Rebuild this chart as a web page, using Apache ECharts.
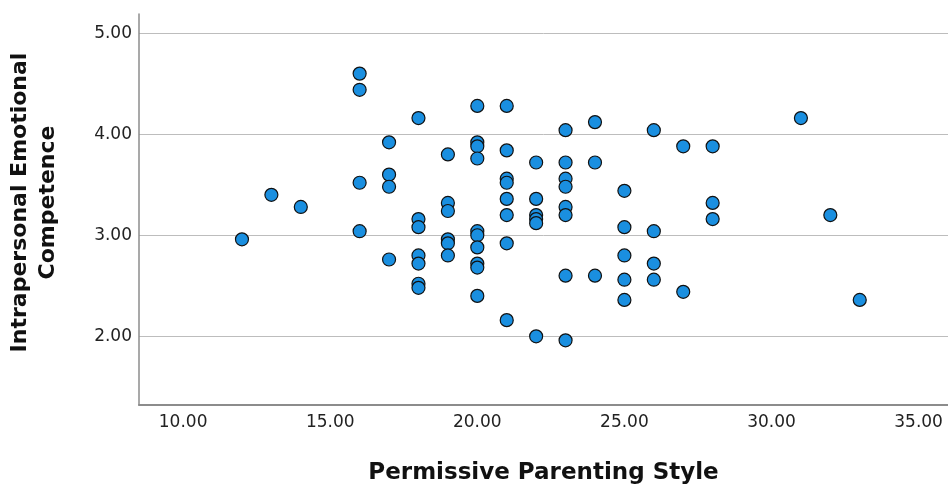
<!DOCTYPE html>
<html>
<head>
<meta charset="utf-8">
<script src="https://cdn.jsdelivr.net/npm/echarts@6/dist/echarts.min.js"></script>
<style>html,body{margin:0;padding:0;background:#fff}#chart{width:948px;height:486px}</style>
</head>
<body>
<div id="chart"></div>
<script>
// Permissive Parenting Style (x) and Intrapersonal Emotional Competence (y)
const permissive = [
  12, 13, 14,
  16, 16, 16, 16,
  17, 17, 17, 17,
  18, 18, 18, 18, 18, 18, 18,
  19, 19, 19, 19, 19, 19,
  20, 20, 20, 20, 20, 20, 20, 20, 20, 20,
  21, 21, 21, 21, 21, 21, 21, 21,
  22, 22, 22, 22, 22, 22,
  23, 23, 23, 23, 23, 23, 23, 23,
  24, 24, 24,
  25, 25, 25, 25, 25,
  26, 26, 26, 26,
  27, 27,
  28, 28, 28,
  31, 32, 33
];
const competence = [
  2.96, 3.40, 3.28,
  4.60, 4.44, 3.52, 3.04,
  3.92, 3.60, 3.48, 2.76,
  4.16, 3.16, 3.08, 2.80, 2.72, 2.52, 2.48,
  3.80, 3.32, 3.24, 2.96, 2.92, 2.80,
  4.28, 3.92, 3.88, 3.76, 3.04, 3.00, 2.88, 2.72, 2.68, 2.40,
  4.28, 3.84, 3.56, 3.52, 3.36, 3.20, 2.92, 2.16,
  3.72, 3.36, 3.20, 3.16, 3.12, 2.00,
  4.04, 3.72, 3.56, 3.48, 3.28, 3.20, 2.60, 1.96,
  4.12, 3.72, 2.60,
  3.44, 3.08, 2.80, 2.56, 2.36,
  4.04, 3.04, 2.72, 2.56,
  3.88, 2.44,
  3.88, 3.32, 3.16,
  4.16, 3.20, 2.36
];
const xTitle = 'Permissive Parenting Style';
const yTitle = 'Intrapersonal Emotional\nCompetence';

const points = permissive.map((x, i) => [x, competence[i]]);

const chart = echarts.init(document.getElementById('chart'), null, {renderer: 'canvas'});
chart.setOption({
  animation: false,
  backgroundColor: '#ffffff',
  grid: {left: 139, right: 0, top: 14, bottom: 81, containLabel: false, outerBoundsMode: 'none'},
  xAxis: {
    type: 'value',
    min: 8.5, max: 36,
    name: xTitle,
    nameLocation: 'middle',
    nameGap: 57,
    nameTextStyle: {fontFamily: 'DejaVu Sans', fontWeight: 'bold', fontSize: 23, color: '#111'},
    axisLine: {show: true, lineStyle: {color: '#8c8c8c', width: 2}},
    axisTick: {show: false},
    splitLine: {show: false},
    axisLabel: {
      margin: 9,
      fontFamily: 'DejaVu Sans', fontSize: 17, color: '#222',
      showMinLabel: false, showMaxLabel: false,
      formatter: v => (Math.abs(v % 5) < 1e-9 ? v.toFixed(2) : '')
    }
  },
  yAxis: {
    type: 'value',
    min: 1.32, max: 5.19,
    name: yTitle,
    nameLocation: 'middle',
    nameGap: 77,
    nameTextStyle: {fontFamily: 'DejaVu Sans', fontWeight: 'bold', fontSize: 22, color: '#111', lineHeight: 28, padding: [0, 0, 0, 14]},
    axisLine: {show: true, lineStyle: {color: '#8c8c8c', width: 1.5}},
    axisTick: {show: false},
    splitLine: {show: true, showMinLine: false, showMaxLine: false, lineStyle: {color: '#bdbdbd', width: 1}},
    axisLabel: {
      margin: 7,
      fontFamily: 'DejaVu Sans', fontSize: 17, color: '#222',
      showMinLabel: false, showMaxLabel: false,
      formatter: v => (Math.abs(v - Math.round(v)) < 1e-9 ? v.toFixed(2) : '')
    }
  },
  series: [{
    type: 'scatter',
    data: points,
    symbol: 'circle',
    symbolSize: 13,
    itemStyle: {color: '#1a8fe0', borderColor: '#111', borderWidth: 1.2, opacity: 1}
  }]
});
</script>
</body>
</html>
